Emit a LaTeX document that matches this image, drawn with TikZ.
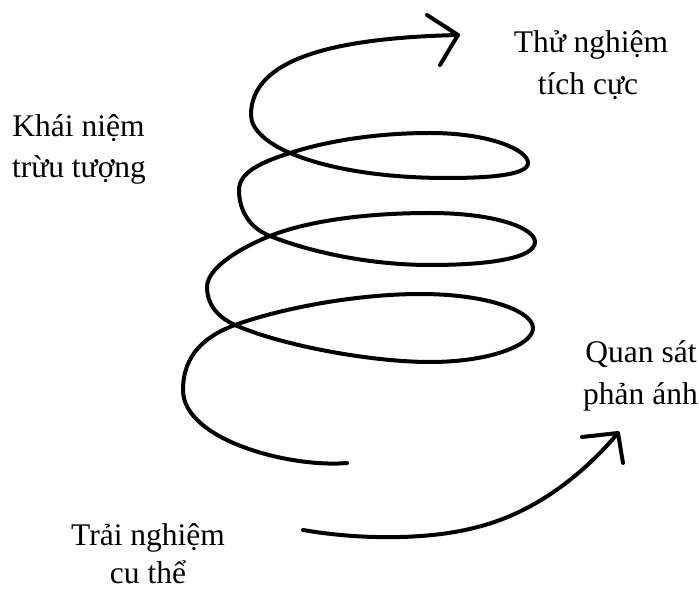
\documentclass[tikz,border=0pt]{standalone}
\usepackage{fontspec}
\setmainfont{Liberation Serif}
\usetikzlibrary{hobby}
\begin{document}
\begin{tikzpicture}[x=1pt,y=-1pt,
  lbl/.style={font=\fontsize{31.5}{42}\selectfont, inner sep=0pt, anchor=base},
  stroke/.style={line width=4pt, line cap=round, line join=round, black}]
\useasboundingbox (0,0) rectangle (699,593);
% labels
\node[lbl] (kn1) at (78.5,137) {Khái niệm};
\node[lbl] (kn2) at (79,178) {trừu tượng};
\node[lbl] (tn1) at (591,53) {Thử nghiệm};
\node[lbl] (tn2) at (588,95) {tích cực};
\node[lbl] (qs1) at (641,363) {Quan sát};
\node[lbl] (qs2) at (640.5,405) {phản ánh};
\node[lbl] (tr1) at (148,545) {Trải nghiệm};
\node[lbl] (tr2) at (148,583) {cu thể};
% spiral
\coordinate (sStart) at (347,463);
\coordinate (sTip) at (458,35);
\draw[stroke] (sStart)
 .. controls (290,468) and (183,440) .. (183,390)
 .. controls (183,355) and (205,336) .. (235,325)
 .. controls (285,307) and (360,294) .. (420,294)
 .. controls (490,294) and (533,312) .. (533,328)
 .. controls (533,345) and (490,362) .. (430,362)
 .. controls (370,362) and (280,345) .. (235,325)
 .. controls (213,315) and (207,300) .. (207,287)
 .. controls (207,268) and (240,248) .. (270,236)
 .. controls (310,220) and (370,213) .. (430,213)
 .. controls (495,213) and (535,228) .. (535,242)
 .. controls (535,258) and (490,265) .. (430,265)
 .. controls (370,265) and (310,252) .. (270,236)
 .. controls (245,226) and (239,205) .. (239,190)
 .. controls (239,172) and (262,162) .. (290,153)
 .. controls (330,140) and (380,133) .. (430,133)
 .. controls (490,133) and (528,150) .. (528,163)
 .. controls (528,175) and (490,178) .. (447,178)
 .. controls (380,178) and (325,168) .. (290,153)
 .. controls (268,143.5) and (251,130) .. (251,115)
 .. controls (251,60) and (330,38) .. (sTip);
\draw[stroke] (427,15) -- (sTip) -- (440,65);
% second arrow
\coordinate (aStart) at (303,530);
\coordinate (aTip) at (618,433);
\draw[stroke, use Hobby shortcut] (aStart) .. (400,537) .. (500,520) .. (583,469) .. (aTip);
\draw[stroke] (582,437) -- (aTip) -- (623,463);
\end{tikzpicture}
\end{document}
